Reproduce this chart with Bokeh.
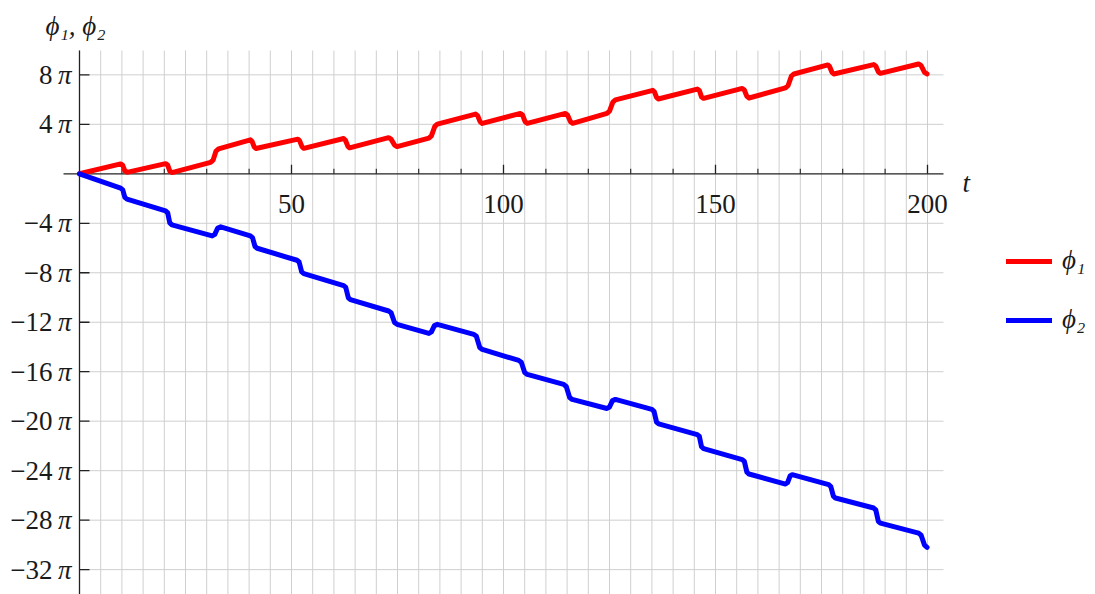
from bokeh.plotting import figure
from bokeh.models import Range1d, Legend, LegendItem, Grid
from bokeh.core.properties import value
from bokeh.embed import file_html
from bokeh.resources import INLINE

# ---------------- data (phase in units of pi) ----------------
t_phi1 = [0, 9.7, 10.2, 10.7, 11.2, 20.3, 20.8, 21.3, 21.8, 30.9, 31.5, 32.2, 32.8,
          40.3, 40.7, 41.2, 41.6, 51.5, 51.9, 52.5, 52.9, 62.3, 62.7, 63.3, 63.7,
          72.9, 73.5, 74.3, 74.9, 82.4, 83.0, 83.8, 84.4, 93.4, 93.9, 94.5, 95.0,
          104.0, 104.5, 105.1, 105.6, 114.6, 115.1, 115.8, 116.3, 124.4, 125.0, 125.8, 126.4,
          135.2, 135.6, 136.1, 136.5, 145.7, 146.2, 146.7, 147.2, 156.3, 156.8, 157.4, 157.9,
          166.5, 167.1, 167.9, 168.5, 176.5, 176.9, 177.5, 177.9, 187.3, 187.8, 188.4, 188.9,
          197.9, 198.5, 199.3, 199.9]
phi1 = [0, 0.80, 0.68, 0.24, 0.12, 0.82, 0.70, 0.22, 0.10, 0.92, 1.10, 1.84, 2.02,
        2.75, 2.63, 2.17, 2.05, 2.80, 2.68, 2.18, 2.06, 2.85, 2.73, 2.22, 2.10,
        2.92, 2.80, 2.32, 2.20, 2.88, 3.07, 3.83, 4.02, 4.83, 4.70, 4.20, 4.07,
        4.88, 4.75, 4.21, 4.08, 4.88, 4.75, 4.21, 4.08, 4.88, 5.06, 5.80, 5.98,
        6.75, 6.63, 6.17, 6.05, 6.85, 6.73, 6.22, 6.10, 6.90, 6.77, 6.26, 6.13,
        6.94, 7.12, 7.89, 8.07, 8.80, 8.68, 8.19, 8.07, 8.83, 8.71, 8.24, 8.12,
        8.88, 8.75, 8.20, 8.07]

t_phi2 = [0, 9.7, 10.2, 10.7, 11.2, 20.3, 20.8, 21.3, 21.8, 31.3, 31.9, 32.6, 33.3,
          40.3, 40.8, 41.4, 41.9, 51.3, 51.8, 52.4, 52.9, 62.3, 62.8, 63.4, 63.9,
          72.9, 73.5, 74.3, 74.9, 82.4, 83.0, 83.7, 84.4, 93.0, 93.6, 94.4, 95.0,
          103.6, 104.2, 105.0, 105.6, 114.2, 114.8, 115.6, 116.2, 124.4, 125.0, 125.7, 126.4,
          135.0, 135.5, 136.1, 136.6, 145.7, 146.2, 146.7, 147.2, 156.3, 156.8, 157.4, 157.9,
          166.5, 167.0, 167.6, 168.1, 176.7, 177.2, 177.8, 178.3, 187.3, 187.8, 188.4, 188.9,
          197.9, 198.5, 199.3, 199.9]
phi2 = [0, -1.16, -1.30, -1.91, -2.05, -3.00, -3.16, -3.97, -4.13, -5.02, -4.90, -4.38, -4.29,
        -5.02, -5.16, -5.88, -6.02, -6.99, -7.13, -7.93, -8.07, -9.04, -9.19, -10.02, -10.17,
        -11.09, -11.24, -12.02, -12.17, -12.90, -12.78, -12.27, -12.17, -12.98, -13.14, -14.04, -14.20,
        -15.09, -15.24, -16.07, -16.22, -17.03, -17.19, -18.08, -18.24, -18.97, -18.85, -18.34, -18.24,
        -19.05, -19.20, -20.07, -20.22, -21.08, -21.23, -22.06, -22.21, -23.10, -23.25, -24.12, -24.27,
        -25.08, -24.96, -24.42, -24.32, -25.13, -25.28, -26.06, -26.21, -27.02, -27.17, -28.09, -28.24,
        -29.05, -29.22, -30.02, -30.20]

x_major_ticks = [50, 100, 150, 200]
x_tick_labels = ["50", "100", "150", "200"]
x_minor_ticks = [10, 20, 30, 40, 60, 70, 80, 90, 110, 120, 130, 140, 160, 170, 180, 190]
x_grid = list(range(0, 205, 5))
y_ticks = [8, 4, -4, -8, -12, -16, -20, -24, -28, -32]
y_tick_labels = ["8", "4", "\u22124", "\u22128", "\u221212", "\u221216", "\u221220",
                 "\u221224", "\u221228", "\u221232"]

# ---------------- layout constants ----------------
W, H = 1095, 594
PX_T = 4.24          # pixels per unit t
PX_Y = 12.37         # pixels per pi
X0_PX, Y0_PX = 79, 173.3
x_lo, x_hi = -X0_PX / PX_T, (W - X0_PX) / PX_T
y_hi, y_lo = Y0_PX / PX_Y, (Y0_PX - H) / PX_Y
axis_x_start, axis_x_end = -3.77, 203.77
axis_y_top = 9.97

SERIF = value("Liberation Serif")
TXT = "#1a1a1a"

p = figure(width=W, height=H, x_range=Range1d(x_lo, x_hi), y_range=Range1d(y_lo, y_hi),
           x_axis_location=None, y_axis_location=None, toolbar_location=None,
           output_backend="svg", min_border=0)
p.outline_line_color = None
p.background_fill_color = "white"
p.border_fill_color = "white"
p.center = [r for r in p.center if not isinstance(r, Grid)]

grid_col = "#cfcfcf"
# vertical grid lines
p.segment(x0=x_grid, y0=y_lo, x1=x_grid, y1=axis_y_top, line_color=grid_col, line_width=1)
# horizontal grid lines
p.segment(x0=0, y0=y_ticks, x1=axis_x_end, y1=y_ticks, line_color=grid_col, line_width=1)

# axes
ax_col = "#222222"
p.segment(x0=[axis_x_start], y0=[0], x1=[axis_x_end], y1=[0], line_color=ax_col, line_width=1.3)
p.segment(x0=[0], y0=[y_lo], x1=[0], y1=[axis_y_top], line_color=ax_col, line_width=1.3)

# ticks
p.segment(x0=x_major_ticks, y0=0, x1=x_major_ticks, y1=9 / PX_Y, line_color=ax_col, line_width=1.3)
p.segment(x0=x_minor_ticks, y0=0, x1=x_minor_ticks, y1=5 / PX_Y, line_color=ax_col, line_width=1.1)
p.segment(x0=0, y0=y_ticks, x1=10 / PX_T, y1=y_ticks, line_color=ax_col, line_width=1.3)

# tick labels
p.text(x=x_major_ticks, y=0, text=x_tick_labels, text_align="center", text_baseline="top",
       y_offset=21, text_font=SERIF, text_font_size="27px", text_color=TXT)
p.text(x=0, y=y_ticks, text=y_tick_labels, text_align="right", text_baseline="middle",
       x_offset=-27, text_font=SERIF, text_font_size="27px", text_color=TXT)
p.text(x=0, y=y_ticks, text=["\u03c0"] * len(y_ticks), text_align="right", text_baseline="middle",
       x_offset=-8, text_font=SERIF, text_font_size="27px", text_font_style="italic",
       text_color=TXT)

# axis labels
p.text(x=[axis_x_end], y=[0], text=["t"], text_align="left", text_baseline="alphabetic",
       x_offset=19, y_offset=9, text_font=SERIF, text_font_size="27px",
       text_font_style="italic", text_color=TXT)
p.text(x=[0], y=[axis_y_top], text=["\u03d5\u2081, \u03d5\u2082"], text_align="left",
       text_baseline="alphabetic", x_offset=-34, y_offset=-24, text_font=SERIF,
       text_font_size="27px", text_font_style="italic", text_color=TXT)

# curves
r1 = p.line(t_phi1, phi1, line_color="#ff0000", line_width=5, line_join="round", line_cap="round")
r2 = p.line(t_phi2, phi2, line_color="#0000ff", line_width=5, line_join="round", line_cap="round")

legend = Legend(items=[LegendItem(label="\u03d5\u2081", renderers=[r1]),
                       LegendItem(label="\u03d5\u2082", renderers=[r2])],
                location=(1006, 259), glyph_width=46, glyph_height=30, spacing=28,
                label_standoff=10, padding=0, margin=0,
                border_line_color=None, background_fill_alpha=0,
                label_text_font="Liberation Serif", label_text_font_size="27px",
                label_text_font_style="italic", label_text_color=TXT)
p.add_layout(legend)

open("out.html", "w").write(file_html(p, INLINE))
